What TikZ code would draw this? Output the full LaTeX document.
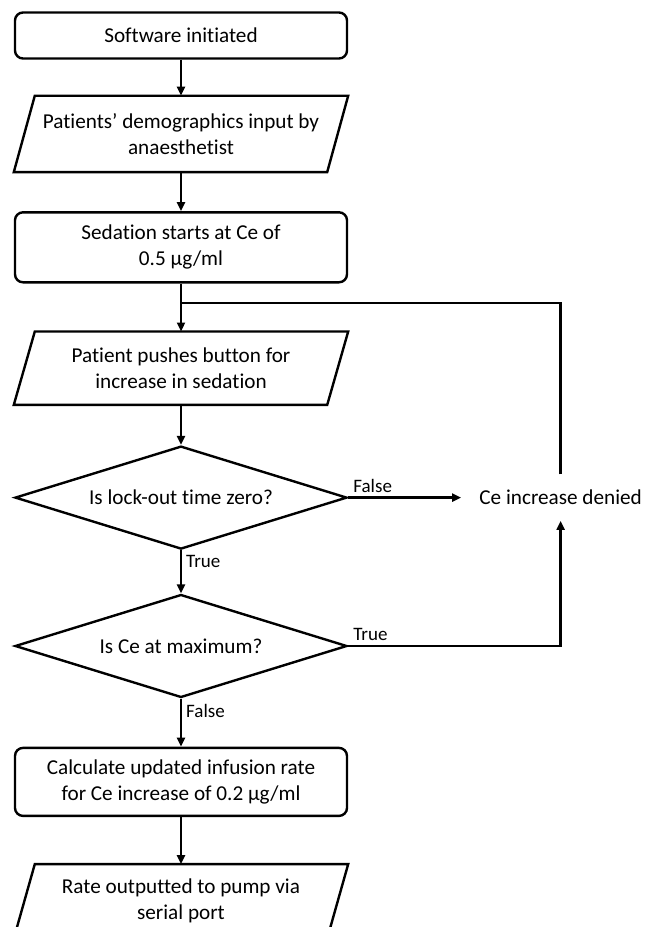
\documentclass[tikz,border=0pt]{standalone}
\usepackage{fontspec}
\setmainfont{Carlito}[Ligatures=NoCommon]
\usetikzlibrary{shapes.geometric,positioning,arrows.meta}

\begin{document}
\begin{tikzpicture}[x=0.5pt,y=-0.5pt,>={Triangle[length=4.5pt,width=4pt]},line width=1.2pt,
    every node/.style={font=\fontsize{10.6}{13}\selectfont},
    proc/.style={draw,rounded corners=4pt,minimum width=166pt,align=center,inner sep=0pt},
    io/.style={minimum width=166pt,align=center,inner sep=0pt,
        append after command={\pgfextra{\draw ([xshift=10.5pt]\tikzlastnode.north west)
            -- (\tikzlastnode.north east) -- ([xshift=-10.5pt]\tikzlastnode.south east)
            -- (\tikzlastnode.south west) -- cycle;}}},
    decision/.style={draw,diamond,aspect=3.2,minimum width=166pt,minimum height=51.5pt,
        align=center,inner sep=0pt},
    lbl/.style={font=\fontsize{9.5}{11}\selectfont,inner sep=2pt}]
    \useasboundingbox (0,0) rectangle (644,927);

    \node[proc,minimum height=23pt] (start) at (181,35.5) {Software initiated};
    \node[io,minimum height=37pt] (demog) [below=18pt of start] {Patients’ demographics input by\\anaesthetist};
    \node[proc,minimum height=35pt] (sedate) [below=19.5pt of demog] {Sedation starts at Ce of\\0.5 µg/ml};
    \node[io,minimum height=35.5pt] (button) [below=24pt of sedate] {Patient pushes button for\\increase in sedation};
    \node[decision] (lockout) [below=20pt of button] {Is lock-out time zero?};
    \node[decision] (maxce) [below=21.5pt of lockout] {Is Ce at maximum?};
    \node[proc,minimum height=34pt] (calc) [below=24pt of maxce] {Calculate updated infusion rate\\for Ce increase of 0.2 µg/ml};
    \node[io,minimum height=36pt] (pump) [below=23.5pt of calc] {Rate outputted to pump via\\serial port};
    \node[inner xsep=8.5pt,minimum height=22pt] (denied) [right=56.5pt of lockout] {Ce increase denied};
    \coordinate (loop) at (181,303);

    \path[->] (start) edge (demog)
    (demog) edge (sedate)
    (sedate) edge (button)
    (button) edge (lockout)
    (lockout) edge node[lbl,pos=0,below right] {True} (maxce)
    edge node[lbl,pos=0,above right] {False} (denied)
    (maxce) edge node[lbl,pos=0,below right] {False} (calc)
    (calc) edge (pump);
    \draw[->] (maxce.east) node[lbl,above right] {True} -| (denied.south);
    \draw (denied.north) |- (loop);
\end{tikzpicture}
\end{document}
